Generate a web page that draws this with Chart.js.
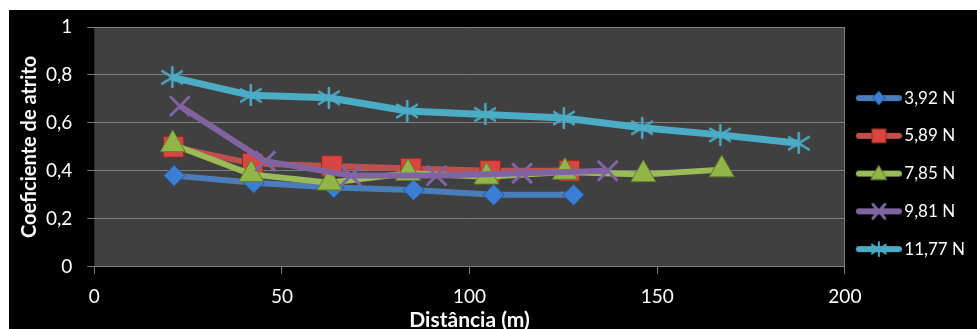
<!DOCTYPE html>
<html lang="pt">
<head>
<meta charset="UTF-8">
<title>Coeficiente de atrito x Distância</title>
<script src="https://cdn.jsdelivr.net/npm/chart.js"></script>
<style>
    html, body { margin: 0; padding: 0; background: #fff; overflow: hidden; }
    .chartBox { position: absolute; left: 9px; top: 10px; width: 968px; height: 330px; background: #000; }
</style>
</head>
<body>
<div class="chartBox"><canvas id="atritoChart"></canvas></div>
<script>
// cargas normais (legenda)
const cargas = ['3,92 N', '5,89 N', '7,85 N', '9,81 N', '11,77 N'];

// distância (m) e coeficiente de atrito para cada carga
const dist392 = [21.3, 42.5, 63.8, 85.1, 106.4, 127.7];
const mu392 = [0.38, 0.35, 0.33, 0.32, 0.30, 0.30];

const dist589 = [21.1, 42.2, 63.3, 84.4, 105.5, 126.6];
const mu589 = [0.50, 0.43, 0.42, 0.41, 0.40, 0.40];

const dist785 = [20.9, 41.8, 62.7, 83.6, 104.5, 125.4, 146.3, 167.2];
const mu785 = [0.51, 0.385, 0.35, 0.39, 0.375, 0.395, 0.385, 0.405];

const dist981 = [22.8, 45.6, 68.4, 91.2, 114.0, 136.8];
const mu981 = [0.67, 0.44, 0.38, 0.38, 0.39, 0.40];

const dist1177 = [20.8, 41.7, 62.5, 83.4, 104.2, 125.1, 146.0, 166.8, 187.7];
const mu1177 = [0.79, 0.715, 0.705, 0.65, 0.635, 0.62, 0.58, 0.55, 0.515];

// marcas dos eixos
const xTicks = [0, 50, 100, 150, 200];
const yTicks = [0, 0.2, 0.4, 0.6, 0.8, 1];

const gridCol = '#7f7f7f';
const fonte = 'Lato, "Open Sans", sans-serif';

// asterisco da série 11,77 N
function asterisco(size, color, lw) {
    const c = document.createElement('canvas');
    c.width = size; c.height = size;
    const g = c.getContext('2d');
    g.strokeStyle = color; g.lineWidth = lw; g.lineCap = 'round';
    const m = size / 2, r = size / 2 - 1;
    g.beginPath();
    g.moveTo(m, 1); g.lineTo(m, size - 1);
    g.moveTo(m - r, m - r * 0.62); g.lineTo(m + r, m + r * 0.62);
    g.moveTo(m - r, m + r * 0.62); g.lineTo(m + r, m - r * 0.62);
    g.stroke();
    return c;
}

// desenha o marcador de cada série num contexto 2d (usado na legenda)
const marcadores = [
    (g, x, y) => { g.fillStyle = '#3a7fd5'; g.strokeStyle = '#24548f'; g.lineWidth = 1;
        g.beginPath(); g.moveTo(x, y - 7); g.lineTo(x + 6, y); g.lineTo(x, y + 7); g.lineTo(x - 6, y); g.closePath(); g.fill(); g.stroke(); },
    (g, x, y) => { g.fillStyle = '#d94540'; g.strokeStyle = '#8e2a26'; g.lineWidth = 1;
        g.fillRect(x - 7, y - 7, 14, 14); g.strokeRect(x - 7, y - 7, 14, 14); },
    (g, x, y) => { g.fillStyle = '#92b54a'; g.strokeStyle = '#5f7d28'; g.lineWidth = 1;
        g.beginPath(); g.moveTo(x, y - 8); g.lineTo(x + 8, y + 6); g.lineTo(x - 8, y + 6); g.closePath(); g.fill(); g.stroke(); },
    (g, x, y) => { g.strokeStyle = '#8064a2'; g.lineWidth = 3;
        g.beginPath(); g.moveTo(x - 6, y - 7); g.lineTo(x + 6, y + 7); g.moveTo(x - 6, y + 7); g.lineTo(x + 6, y - 7); g.stroke(); },
    (g, x, y) => { g.drawImage(asterisco(16, '#4bacc6', 2), x - 8, y - 8); }
];

const coresLinha = ['#4a7ebb', '#c0504d', '#9bbb59', '#8064a2', '#4bacc6'];

function iconeLegenda(i) {
    const c = document.createElement('canvas');
    c.width = 52; c.height = 22;
    const g = c.getContext('2d');
    g.strokeStyle = coresLinha[i]; g.lineWidth = 6; g.lineCap = 'round';
    g.beginPath(); g.moveTo(9, 11); g.lineTo(49, 11); g.stroke();
    marcadores[i](g, 29, 11);
    return c;
}

const pontos = (xs, ys) => xs.map((x, i) => ({ x: x, y: ys[i] }));

const series = [
    { data: pontos(dist392, mu392), pointStyle: 'rectRot', pointRadius: 10.5,
      pointBackgroundColor: '#3a7fd5', pointBorderColor: '#24548f', pointBorderWidth: 1 },
    { data: pontos(dist589, mu589), pointStyle: 'rect', pointRadius: 14.5,
      pointBackgroundColor: '#d94540', pointBorderColor: '#8e2a26', pointBorderWidth: 1 },
    { data: pontos(dist785, mu785), pointStyle: 'triangle', pointRadius: 14.5,
      pointBackgroundColor: '#92b54a', pointBorderColor: '#5f7d28', pointBorderWidth: 1 },
    { data: pontos(dist981, mu981), pointStyle: 'crossRot', pointRadius: 14,
      pointBackgroundColor: '#8064a2', pointBorderColor: '#8064a2', pointBorderWidth: 3 },
    { data: pontos(dist1177, mu1177), pointStyle: asterisco(22, '#4bacc6', 2.5), pointRadius: 11,
      pointBackgroundColor: '#4bacc6', pointBorderColor: '#4bacc6', pointBorderWidth: 2 }
];

const datasets = series.map((s, i) => Object.assign({
    label: cargas[i],
    showLine: true,
    borderColor: coresLinha[i],
    borderWidth: i === 4 ? 7 : 6,
    tension: 0,
    order: series.length - i,
    pointHoverRadius: s.pointRadius
}, s));

// fundo cinza da área de plotagem
const fundoPlot = {
    id: 'fundoPlot',
    beforeDraw(chart) {
        const { ctx, chartArea: a } = chart;
        ctx.save();
        ctx.fillStyle = '#404040';
        ctx.fillRect(a.left, a.top, a.right - a.left, a.bottom - a.top);
        ctx.restore();
    }
};

new Chart(document.getElementById('atritoChart'), {
    type: 'scatter',
    data: { datasets: datasets },
    options: {
        responsive: true,
        maintainAspectRatio: false,
        animation: false,
        layout: { padding: { top: 0.3, right: 2, bottom: 0, left: 0 } },
        plugins: {
            tooltip: { enabled: false },
            legend: {
                position: 'right',
                title: { display: true, text: '', font: { size: 6.7, lineHeight: 1 }, padding: 0 },
                labels: {
                    usePointStyle: true,
                    pointStyleWidth: 40,
                    padding: 11,
                    color: '#fff',
                    font: { family: fonte, size: 17, lineHeight: 26.75 / 17 },
                    generateLabels: chart => chart.data.datasets.map((ds, i) => ({
                        text: [ds.label],
                        pointStyle: iconeLegenda(i),
                        fillStyle: coresLinha[i],
                        strokeStyle: 'transparent',
                        lineWidth: 0,
                        fontColor: '#fff',
                        hidden: false,
                        datasetIndex: i
                    }))
                }
            }
        },
        scales: {
            x: {
                type: 'linear',
                min: 0,
                max: 200,
                afterBuildTicks: s => { s.ticks = xTicks.map(v => ({ value: v })); },
                afterFit: s => { s.height = 73.3; },
                grid: {
                    color: c => (c.tick && c.tick.value === 200) ? gridCol : 'transparent',
                    tickColor: gridCol,
                    tickLength: 7
                },
                border: { display: false },
                ticks: { color: '#fff', font: { family: fonte, size: 19 }, padding: 11.5, maxRotation: 0 },
                title: {
                    display: true, text: 'Distância (m)', color: '#fff',
                    font: { family: fonte, size: 21, weight: 'bold' },
                    padding: { top: 0, bottom: 7.4 }
                }
            },
            y: {
                min: 0,
                max: 1,
                afterBuildTicks: s => { s.ticks = yTicks.map(v => ({ value: v })); },
                afterFit: s => { s.width = 85.3; s.paddingTop = 13.3; s.paddingBottom = 0; },
                grid: { color: gridCol, tickColor: gridCol, tickLength: 7 },
                border: { display: false },
                ticks: {
                    color: '#fff', font: { family: fonte, size: 19 }, padding: 15,
                    callback: v => String(v).replace('.', ',')
                },
                title: {
                    display: true, text: 'Coeficiente de atrito', color: '#fff',
                    font: { family: fonte, size: 20, weight: 'bold' },
                    padding: { top: 9, bottom: 0 }
                }
            }
        }
    },
    plugins: [fundoPlot]
});
</script>
</body>
</html>
